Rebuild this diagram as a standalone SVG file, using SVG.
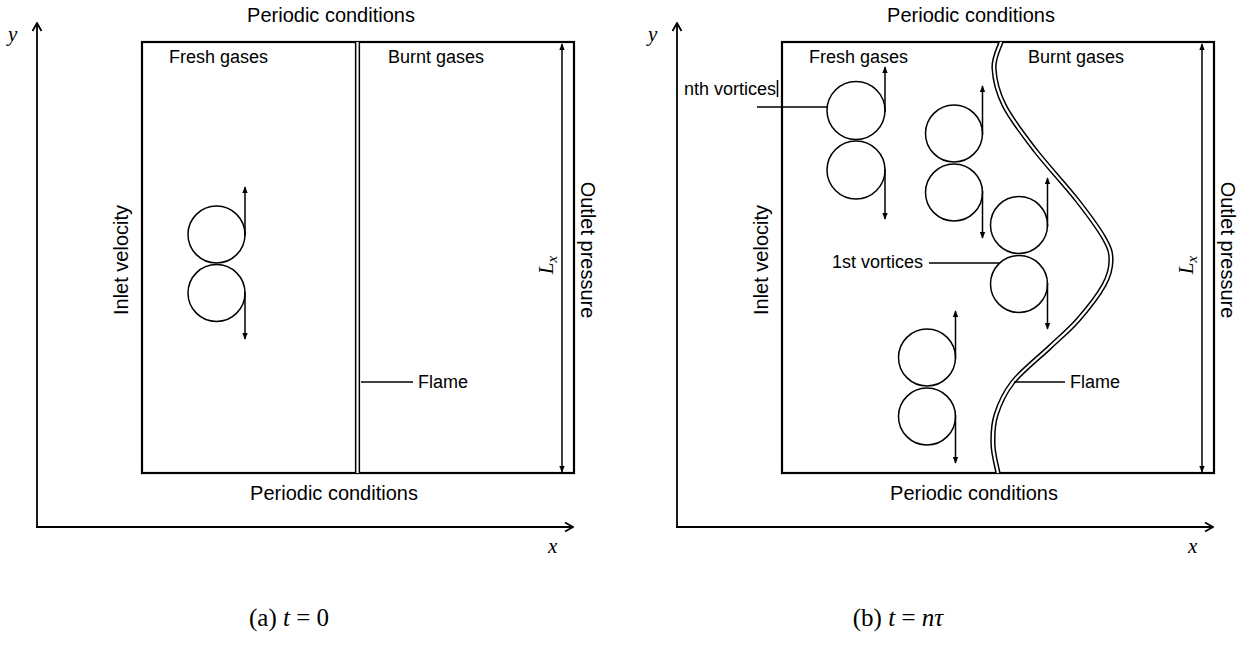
<svg xmlns="http://www.w3.org/2000/svg" width="1242" height="646" viewBox="0 0 1242 646">
<style>
.box{fill:none;stroke:#000;stroke-width:2.2}
.ax{fill:none;stroke:#000;stroke-width:1.8}
.circ{fill:none;stroke:#000;stroke-width:1.5}
.arr{fill:none;stroke:#000;stroke-width:1.5}
.ld{fill:none;stroke:#000;stroke-width:1.5}
.fl-o{fill:none;stroke:#000;stroke-width:5.2}
.fl-i{fill:none;stroke:#fff;stroke-width:2.2}
.lb{font-family:"Liberation Sans",Arial,sans-serif;font-size:18px;fill:#000}
.bd{font-family:"Liberation Sans",Arial,sans-serif;font-size:20px;fill:#000}
.mt{font-family:"Liberation Serif","Times New Roman",serif;font-style:italic;font-size:21px;fill:#000}
.cap{font-family:"Liberation Serif","Times New Roman",serif;font-size:25px;fill:#000}
</style>
<defs>
<marker id="ah" viewBox="0 0 10 10" refX="9" refY="5" markerWidth="7" markerHeight="7" markerUnits="userSpaceOnUse" orient="auto-start-reverse">
<path d="M0,1 L10,5 L0,9 Z" fill="#000"/>
</marker>
<marker id="oa" viewBox="0 0 12 12" refX="11" refY="6" markerWidth="12" markerHeight="12" markerUnits="userSpaceOnUse" orient="auto">
<path d="M3,1.5 L11,6 L3,10.5" fill="none" stroke="#000" stroke-width="1.8"/>
</marker>
</defs>

<!-- ============ Panel (a) ============ -->
<g id="panel-a">
  <g id="a-axes">
    <line class="ax" x1="37" y1="527" x2="37" y2="23" marker-end="url(#oa)"/>
    <line class="ax" x1="36" y1="527" x2="573" y2="527" marker-end="url(#oa)"/>
    <text class="mt" x="8" y="41">y</text>
    <text class="mt" x="548" y="553">x</text>
  </g>
  <g id="a-domain">
    <rect class="box" x="142" y="42" width="432" height="431"/>
  </g>
  <g id="a-flame">
    <line class="fl-o" x1="357.5" y1="42" x2="357.5" y2="473"/>
    <line class="fl-i" x1="357.5" y1="42" x2="357.5" y2="473"/>
  </g>
  <g id="a-vortices">
    <circle class="circ" cx="216.5" cy="234.5" r="28.5"/>
    <circle class="circ" cx="216.5" cy="293" r="28.5"/>
  </g>
  <g id="a-labels">
    <text class="bd" x="331" y="22" text-anchor="middle">Periodic conditions</text>
    <text class="bd" x="334" y="500" text-anchor="middle">Periodic conditions</text>
    <text class="lb" x="169" y="63">Fresh gases</text>
    <text class="lb" x="388" y="63">Burnt gases</text>
    <text class="bd" transform="translate(128,260) rotate(-90)" text-anchor="middle">Inlet velocity</text>
    <text class="bd" transform="translate(581,250) rotate(90)" text-anchor="middle">Outlet pressure</text>
    <text class="mt" transform="translate(553,265) rotate(-90)" text-anchor="middle">L<tspan font-size="15" dy="4">x</tspan></text>
    <text class="lb" x="418" y="388">Flame</text>
  </g>
  <g id="a-caption">
    <text class="cap" x="289" y="626" text-anchor="middle">(a) <tspan font-style="italic">t</tspan> = 0</text>
  </g>
</g>

<!-- ============ Panel (b) ============ -->
<g id="panel-b">
  <g id="b-axes">
    <line class="ax" x1="677" y1="527" x2="677" y2="23" marker-end="url(#oa)"/>
    <line class="ax" x1="676" y1="527" x2="1213" y2="527" marker-end="url(#oa)"/>
    <text class="mt" x="648" y="41">y</text>
    <text class="mt" x="1188" y="553">x</text>
  </g>
  <g id="b-domain">
    <rect class="box" x="782" y="42" width="432" height="431"/>
  </g>
  <g id="b-flame">
    <path class="fl-o" d="M1001,42 C999.8,46.3 993.5,57.5 994,68 C994.5,78.5 997.2,91.3 1004,105 C1010.8,118.7 1022.8,134.2 1035,150 C1047.2,165.8 1065.5,185.3 1077,200 C1088.5,214.7 1098.3,228 1104,238 C1109.7,248 1111,252.2 1111,260 C1111,267.8 1109.5,275 1104,285 C1098.5,295 1087,309.7 1078,320 C1069,330.3 1060.8,336.7 1050,347 C1039.2,357.3 1022,370.7 1013,382 C1004,393.3 999.3,404.5 996,415 C992.7,425.5 992.7,435.3 993,445 C993.3,454.7 997.2,468.3 998,473"/>
    <path class="fl-i" d="M1001,42 C999.8,46.3 993.5,57.5 994,68 C994.5,78.5 997.2,91.3 1004,105 C1010.8,118.7 1022.8,134.2 1035,150 C1047.2,165.8 1065.5,185.3 1077,200 C1088.5,214.7 1098.3,228 1104,238 C1109.7,248 1111,252.2 1111,260 C1111,267.8 1109.5,275 1104,285 C1098.5,295 1087,309.7 1078,320 C1069,330.3 1060.8,336.7 1050,347 C1039.2,357.3 1022,370.7 1013,382 C1004,393.3 999.3,404.5 996,415 C992.7,425.5 992.7,435.3 993,445 C993.3,454.7 997.2,468.3 998,473"/>
  </g>
  <g id="b-vortices-n">
    <circle class="circ" cx="856" cy="110.5" r="29"/>
    <circle class="circ" cx="856" cy="170" r="29"/>
  </g>
  <g id="b-vortices-2">
    <circle class="circ" cx="954" cy="133.5" r="28.5"/>
    <circle class="circ" cx="954" cy="192.5" r="28.5"/>
  </g>
  <g id="b-vortices-1">
    <circle class="circ" cx="1019" cy="225" r="28.5"/>
    <circle class="circ" cx="1019" cy="284" r="28.5"/>
  </g>
  <g id="b-vortices-3">
    <circle class="circ" cx="927" cy="357.5" r="28.5"/>
    <circle class="circ" cx="927" cy="416.5" r="28.5"/>
  </g>
  <g id="b-labels">
    <text class="bd" x="971" y="22" text-anchor="middle">Periodic conditions</text>
    <text class="bd" x="974" y="500" text-anchor="middle">Periodic conditions</text>
    <text class="lb" x="809" y="63">Fresh gases</text>
    <text class="lb" x="1028" y="63">Burnt gases</text>
    <text class="bd" transform="translate(768,260) rotate(-90)" text-anchor="middle">Inlet velocity</text>
    <text class="bd" transform="translate(1221,250) rotate(90)" text-anchor="middle">Outlet pressure</text>
    <text class="mt" transform="translate(1193,265) rotate(-90)" text-anchor="middle">L<tspan font-size="15" dy="4">x</tspan></text>
    <text class="lb" x="776" y="95" text-anchor="end">nth vortices</text>
    <text class="lb" x="923" y="268" text-anchor="end">1st vortices</text>
    <text class="lb" x="1070" y="388">Flame</text>
  </g>
  <g id="b-caption">
    <text class="cap" x="898" y="626" text-anchor="middle">(b) <tspan font-style="italic">t</tspan> = <tspan font-style="italic">nτ</tspan></text>
  </g>
</g>

<!-- ============ Connectors ============ -->
<g id="connectors">
  <line class="arr" x1="245" y1="236" x2="245" y2="187" marker-end="url(#ah)"/>
  <line class="arr" x1="245" y1="292" x2="245" y2="339" marker-end="url(#ah)"/>
  <line class="arr" x1="562" y1="44" x2="562" y2="472" marker-start="url(#ah)" marker-end="url(#ah)"/>
  <line class="ld" x1="361" y1="382" x2="413" y2="382"/>
  <line class="arr" x1="885" y1="112" x2="885" y2="67" marker-end="url(#ah)"/>
  <line class="arr" x1="885" y1="169" x2="885" y2="219" marker-end="url(#ah)"/>
  <line class="arr" x1="982.5" y1="135" x2="982.5" y2="86" marker-end="url(#ah)"/>
  <line class="arr" x1="982.5" y1="191" x2="982.5" y2="238" marker-end="url(#ah)"/>
  <line class="arr" x1="1047.5" y1="227" x2="1047.5" y2="178" marker-end="url(#ah)"/>
  <line class="arr" x1="1047.5" y1="283" x2="1047.5" y2="329" marker-end="url(#ah)"/>
  <line class="arr" x1="955.5" y1="359" x2="955.5" y2="311" marker-end="url(#ah)"/>
  <line class="arr" x1="955.5" y1="415" x2="955.5" y2="463" marker-end="url(#ah)"/>
  <line class="arr" x1="1202" y1="44" x2="1202" y2="472" marker-start="url(#ah)" marker-end="url(#ah)"/>
  <line class="ld" x1="757" y1="107" x2="827" y2="107"/>
  <line class="ld" x1="777.5" y1="80" x2="777.5" y2="97"/>
  <line class="ld" x1="929" y1="263" x2="999" y2="263"/>
  <line class="ld" x1="1014" y1="382" x2="1065" y2="382"/>
</g>
</svg>
